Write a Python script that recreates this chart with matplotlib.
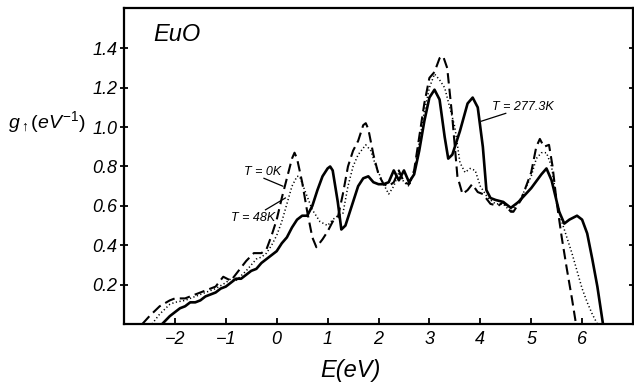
import matplotlib
matplotlib.use("Agg")
import matplotlib.pyplot as plt

# T = 277.3 K (solid)
x_hot = [-2.25, -2.1, -2.0, -1.9, -1.8, -1.7, -1.6, -1.5, -1.4, -1.3, -1.2, -1.1, -1.0, -0.9, -0.8,
         -0.7, -0.6, -0.5, -0.4, -0.3, -0.2, -0.1, 0.0, 0.1, 0.2, 0.3, 0.4, 0.5, 0.6, 0.7, 0.8, 0.9,
         1.0, 1.05, 1.1, 1.2, 1.27, 1.35, 1.5, 1.6, 1.7, 1.8, 1.9, 2.0, 2.1, 2.2, 2.3, 2.4, 2.5, 2.6,
         2.7, 2.8, 2.9, 3.0, 3.1, 3.2, 3.3, 3.37, 3.45, 3.6, 3.75, 3.85, 3.95, 4.05, 4.12, 4.2, 4.3,
         4.45, 4.6, 4.75, 5.0, 5.2, 5.3, 5.4, 5.55, 5.65, 5.75, 5.9, 6.0, 6.1, 6.2, 6.3, 6.41]
y_hot = [0.0, 0.04, 0.06, 0.08, 0.09, 0.11, 0.11, 0.12, 0.14, 0.15, 0.16, 0.18, 0.19, 0.21, 0.23,
         0.23, 0.25, 0.27, 0.28, 0.31, 0.33, 0.35, 0.37, 0.41, 0.44, 0.49, 0.53, 0.55, 0.55, 0.60, 0.68, 0.75,
         0.79, 0.80, 0.78, 0.62, 0.48, 0.50, 0.62, 0.70, 0.74, 0.75, 0.72, 0.71, 0.71, 0.72, 0.78, 0.73, 0.78, 0.72,
         0.76, 0.88, 1.03, 1.15, 1.19, 1.14, 0.95, 0.84, 0.86, 0.98, 1.12, 1.15, 1.10, 0.90, 0.68, 0.64, 0.63,
         0.62, 0.59, 0.62, 0.69, 0.76, 0.79, 0.73, 0.57, 0.51, 0.53, 0.55, 0.53, 0.46, 0.33, 0.19, 0.0]

# T = 0 K (dashed)
x_0 = [-2.64, -2.5, -2.3, -2.1, -2.0, -1.8, -1.6, -1.4, -1.2, -1.05, -0.9, -0.75, -0.6, -0.45, -0.3,
       -0.2, -0.1, 0.0, 0.1, 0.2, 0.3, 0.35, 0.4, 0.5, 0.6, 0.7, 0.78, 0.9, 1.0, 1.1, 1.2, 1.3, 1.4,
       1.5, 1.6, 1.7, 1.75, 1.8, 1.9, 2.0, 2.1, 2.2, 2.3, 2.4, 2.5, 2.6, 2.7, 2.8, 2.9, 3.0, 3.1, 3.2,
       3.27, 3.35, 3.45, 3.55, 3.65, 3.75, 3.84, 3.95, 4.05, 4.2, 4.35, 4.45, 4.6, 4.65, 4.8, 5.0, 5.1,
       5.17, 5.25, 5.35, 5.42, 5.5, 5.6, 5.7, 5.8, 5.88]
y_0 = [0.0, 0.04, 0.09, 0.12, 0.13, 0.13, 0.15, 0.17, 0.19, 0.24, 0.22, 0.27, 0.32, 0.36, 0.36,
       0.38, 0.45, 0.53, 0.64, 0.74, 0.84, 0.87, 0.84, 0.72, 0.57, 0.44, 0.39, 0.43, 0.47, 0.52, 0.54, 0.66, 0.80,
       0.88, 0.93, 1.01, 1.02, 0.99, 0.86, 0.76, 0.71, 0.70, 0.72, 0.78, 0.72, 0.71, 0.78, 0.95, 1.12, 1.25, 1.28, 1.35,
       1.36, 1.30, 1.05, 0.75, 0.66, 0.68, 0.71, 0.67, 0.66, 0.61, 0.60, 0.62, 0.57, 0.57, 0.63, 0.77, 0.90,
       0.94, 0.90, 0.91, 0.80, 0.62, 0.44, 0.28, 0.13, 0.0]

# T = 48 K (dotted)
x_48 = [-2.45, -2.3, -2.1, -2.0, -1.8, -1.6, -1.4, -1.2, -1.0, -0.9, -0.8, -0.6, -0.4, -0.3, -0.2,
        -0.1, 0.0, 0.1, 0.2, 0.3, 0.4, 0.45, 0.55, 0.7, 0.85, 1.0, 1.1, 1.2, 1.3, 1.4, 1.5, 1.6, 1.75,
        1.85, 1.95, 2.1, 2.2, 2.3, 2.4, 2.5, 2.6, 2.7, 2.8, 2.9, 3.0, 3.1, 3.2, 3.3, 3.4, 3.5, 3.6, 3.7,
        3.8, 3.9, 4.0, 4.15, 4.3, 4.45, 4.6, 4.8, 5.0, 5.1, 5.2, 5.3, 5.4, 5.5, 5.6, 5.7, 5.8, 5.9, 6.0,
        6.1, 6.2, 6.3]
y_48 = [0.0, 0.05, 0.10, 0.11, 0.12, 0.14, 0.16, 0.18, 0.21, 0.23, 0.22, 0.27, 0.33, 0.34, 0.36,
        0.40, 0.45, 0.52, 0.61, 0.70, 0.75, 0.75, 0.68, 0.58, 0.52, 0.50, 0.53, 0.55, 0.56, 0.70, 0.80, 0.86, 0.91,
        0.88, 0.80, 0.71, 0.66, 0.70, 0.77, 0.72, 0.70, 0.77, 0.92, 1.08, 1.20, 1.27, 1.24, 1.20, 1.10, 1.00, 0.82, 0.77,
        0.79, 0.78, 0.70, 0.64, 0.61, 0.61, 0.57, 0.64, 0.75, 0.84, 0.87, 0.87, 0.80, 0.63, 0.52, 0.44, 0.36, 0.27, 0.18,
        0.11, 0.05, 0.0]

x_ticks = [-2, -1, 0, 1, 2, 3, 4, 5, 6]
y_ticks = [0.2, 0.4, 0.6, 0.8, 1.0, 1.2, 1.4]
y_ticklabels = ["0.2", "0.4", "0.6", "0.8", "1.0", "1.2", "1.4"]

plt.rcParams['font.family'] = ['Liberation Sans', 'DejaVu Sans']
plt.rcParams['mathtext.fontset'] = 'custom'
plt.rcParams['mathtext.it'] = 'Liberation Sans:italic'
plt.rcParams['mathtext.rm'] = 'Liberation Sans'

fig = plt.figure(figsize=(6.34, 3.83), dpi=100)
ax = fig.add_axes([124/634, 59/383, 509/634, 316/383])

ax.plot(x_hot, y_hot, color='black', lw=1.9, solid_joinstyle='round')
ax.plot(x_0, y_0, color='black', lw=1.5, linestyle=(0, (5, 2.5)))
ax.plot(x_48, y_48, color='black', lw=1.1, linestyle=(0, (0.8, 1.6)))

ax.set_xlim(-3, 7)
ax.set_ylim(0, 1.605)
ax.set_xticks(x_ticks)
ax.set_xticklabels([str(t).replace('-', '\u2212') for t in x_ticks], fontstyle='italic', fontsize=13)
ax.set_yticks(y_ticks)
ax.set_yticklabels(y_ticklabels, fontstyle='italic', fontsize=13)
ax.tick_params(axis='x', direction='in', length=4, width=1.3, pad=5)
ax.tick_params(axis='y', direction='inout', length=6, width=1.3, pad=2, right=True)
for s in ax.spines.values():
    s.set_linewidth(1.6)

ax.text(-2.43, 1.47, "EuO", fontsize=17, fontstyle='italic', ha='left', va='center')

# annotations
ax.text(-0.27, 0.77, "T = 0K", fontsize=9, fontstyle='italic', ha='center', va='center')
ax.plot([-0.25, 0.12], [0.74, 0.70], color='black', lw=0.9)
ax.text(-0.47, 0.54, "T = 48K", fontsize=9, fontstyle='italic', ha='center', va='center')
ax.plot([-0.22, 0.17], [0.58, 0.64], color='black', lw=0.9)
ax.text(4.83, 1.10, "T = 277.3K", fontsize=9, fontstyle='italic', ha='center', va='center')
ax.plot([4.5, 4.02], [1.07, 1.03], color='black', lw=0.9)

fig.text(8/634, 1 - 122/383, r"$g_{\uparrow}(eV^{-1})$", fontsize=14,
         ha='left', va='center')
fig.text(350/634, 1 - 370/383, "E(eV)", fontsize=17, fontstyle='italic', ha='center', va='center')

fig.savefig("out.png", dpi=100)
